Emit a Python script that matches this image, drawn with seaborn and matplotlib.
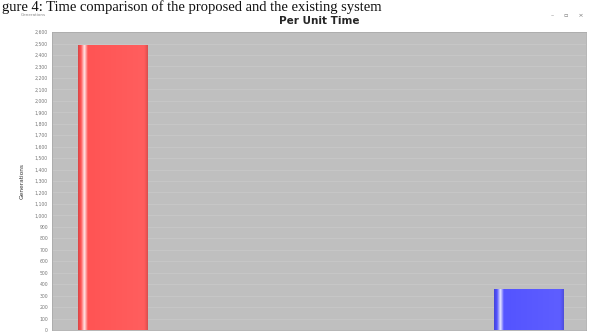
import matplotlib
matplotlib.use("Agg")
import matplotlib.pyplot as plt
import matplotlib.colors as mcolors
import numpy as np
import pandas as pd
import seaborn as sns

# data
systems = ["Proposed", "Existing"]
generations = [2490, 360]
bar_colors = ["#ff5252", "#5252ff"]
y_ticks = list(range(0, 2700, 100))


def glossy(ax, patch, color):
    # horizontal shading like the JFreeChart gradient bars
    x0, y0 = patch.get_x(), patch.get_y()
    w, h = patch.get_width(), patch.get_height()
    base = np.array(mcolors.to_rgb(color))
    t = np.linspace(0, 1, 200)
    light = np.clip(1 - np.abs(t - 0.09) / 0.05, 0, 1)
    shade = 0.85 + 0.15 * np.clip(t / 0.04, 0, 1) - 0.2 * np.clip((t - 0.94) / 0.06, 0, 1)
    rgb = base[None, :] * shade[:, None]
    rgb = rgb + (1 - rgb) * (0.85 * light[:, None]) + 0.05 * t[:, None]
    img = np.clip(rgb, 0, 1)[None, :, :]
    im = ax.imshow(img, extent=(x0, x0 + w, y0, y0 + h), aspect="auto", zorder=3)
    im.set_clip_path(patch)


df = pd.DataFrame({"system": systems, "gen": generations})

sns.set_style("white")
plt.rcParams["font.family"] = ["DejaVu Sans"]
fig = plt.figure(figsize=(5.92, 3.34), dpi=100)
ax = fig.add_axes([0.088, 0.012, 0.902, 0.892])
ax.set_facecolor("#bfbfbf")

sns.barplot(data=df, x="system", y="gen", hue="system", palette=bar_colors,
            width=0.168, legend=False, ax=ax, zorder=2, linewidth=0)
for p, c in zip(ax.patches, bar_colors):
    glossy(ax, p, c)

ax.set_xlim(-0.147, 1.137)
ax.set_ylim(0, 2600)
ax.set_yticks(y_ticks)
ax.set_yticklabels([f"{v:,}" for v in y_ticks], fontsize=3.3, color="#777777")
ax.tick_params(axis="y", length=1.5, pad=1.5, color="#aaaaaa")
ax.set_xticks([])
ax.set_xlabel("")
ax.set_ylabel("Generations", fontsize=4.2, color="#333333", labelpad=7)
ax.grid(axis="y", color="#c7c7c7", linewidth=0.7, zorder=0)
ax.set_axisbelow(True)
for s in ax.spines.values():
    s.set_color("#aaaaaa")
    s.set_linewidth(0.6)

ax.set_title("Per Unit Time", fontsize=7.5, fontweight="bold", pad=6)

# caption line of the source page above the window, and the window chrome
fig.text(0.003, 0.998, "gure 4: Time comparison of the proposed and the existing system",
         fontsize=10.5, family="Liberation Serif", ha="left", va="top", color="#111111")
fig.text(0.035, 0.955, "Generations", fontsize=3, color="#888888", va="center")
fig.text(0.93, 0.955, "–     ▫     ×", fontsize=4.5, color="#777777", va="center")

fig.savefig("out.png", dpi=100)
